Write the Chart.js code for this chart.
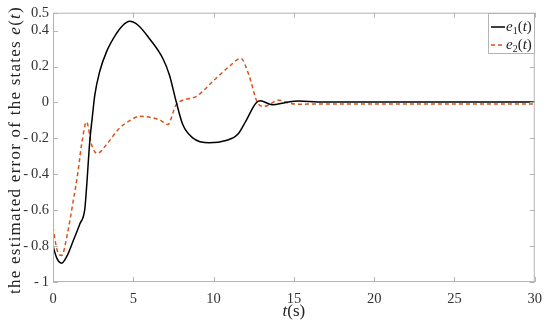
<!DOCTYPE html>
<html>
<head>
<meta charset="utf-8">
<script src="https://cdn.jsdelivr.net/npm/chart.js@4.4.1/dist/chart.umd.min.js"></script>
<style>
  html, body { margin: 0; padding: 0; background: #fff; }
  #wrap { width: 550px; height: 329px; }
</style>
</head>
<body>
<div id="wrap"><canvas id="myChart"></canvas></div>
<script>
// values
const tE1 = [0, 0.25, 0.54, 0.9, 1.26, 1.67, 1.98, 2.09, 2.29, 2.45, 2.6, 2.9, 3.33, 3.95, 4.3, 4.77, 5.3, 6.0, 6.84, 7.25, 7.67, 8.08, 8.7, 9.73, 10.77, 11.49, 12.0, 12.63, 12.9, 13.66, 14.5, 15.3, 16.5, 18, 30];
const e1 = [-0.80, -0.87, -0.895, -0.85, -0.77, -0.677, -0.594, -0.474, -0.216, -0.08, 0.04, 0.17, 0.282, 0.384, 0.425, 0.452, 0.43, 0.356, 0.245, 0.153, 0.005, -0.123, -0.197, -0.225, -0.212, -0.179, -0.105, -0.004, 0.01, -0.013, 0.0, 0.008, 0.003, 0.003, 0.003];

const tE2 = [0, 0.25, 0.54, 0.9, 1.26, 1.55, 1.78, 2.09, 2.4, 2.75, 3.33, 4.15, 4.8, 5.39, 6.22, 6.7, 7.15, 7.67, 8.9, 9.94, 10.97, 11.7, 12.2, 12.73, 13.14, 14.07, 14.7, 15.3, 16.5, 30];
const e2 = [-0.695, -0.82, -0.852, -0.73, -0.548, -0.39, -0.234, -0.109, -0.234, -0.284, -0.234, -0.142, -0.10, -0.077, -0.086, -0.10, -0.123, -0.013, 0.033, 0.116, 0.2, 0.245, 0.153, 0.0, -0.022, 0.013, -0.003, -0.01, -0.008, -0.008];

const xTicks = [0, 5, 10, 15, 20, 25, 30];
const yTicks = [-1, -0.8, -0.6, -0.4, -0.2, 0, 0.2, 0.4, 0.5];

const serif = "'Liberation Serif', 'Times New Roman', serif";

// draw a run of text pieces [text, font, dy]
function drawRun(ctx, x, y, parts) {
  parts.forEach(p => {
    ctx.font = p[1];
    ctx.fillText(p[0], x, y + (p[2] || 0));
    x += ctx.measureText(p[0]).width;
  });
  return x;
}
function runWidth(ctx, parts) {
  let w = 0;
  parts.forEach(p => { ctx.font = p[1]; w += ctx.measureText(p[0]).width; });
  return w;
}

const rmT = '17px ' + serif, itT = 'italic 17px ' + serif;
const yTitle = [['the estimated error of the states ', rmT], ['e', itT], ['(', rmT], ['t', itT], [')', rmT]];

const extras = {
  id: 'extras',
  afterDatasetsDraw(chart) {
    const { ctx, chartArea: a, scales: { x, y } } = chart;
    ctx.save();
    // box
    ctx.strokeStyle = '#b4b4b4';
    ctx.lineWidth = 1;
    ctx.strokeRect(a.left + 0.5, a.top + 0.5, a.right - a.left - 1, a.bottom - a.top - 1);
    // inward ticks on all four sides
    ctx.beginPath();
    xTicks.forEach(v => {
      const px = Math.round(x.getPixelForValue(v)) + 0.5;
      ctx.moveTo(px, a.bottom); ctx.lineTo(px, a.bottom - 5);
      ctx.moveTo(px, a.top); ctx.lineTo(px, a.top + 5);
    });
    yTicks.forEach(v => {
      const py = Math.round(y.getPixelForValue(v)) + 0.5;
      ctx.moveTo(a.left, py); ctx.lineTo(a.left + 5, py);
      ctx.moveTo(a.right, py); ctx.lineTo(a.right - 5, py);
    });
    ctx.stroke();

    // legend
    const lx = 488, ly = 13, lw = 46, lh = 40;
    ctx.fillStyle = '#fff';
    ctx.fillRect(lx, ly, lw, lh);
    ctx.strokeRect(lx + 0.5, ly + 0.5, lw, lh);
    const it = 'italic 15px ' + serif, rm = '15px ' + serif, sub = '10px ' + serif;
    const rows = [
      { color: '#000', dash: [], label: [['e', it], ['1', sub, 4], ['(', rm], ['t', it], [')', rm]], yy: 27 },
      { color: '#D95319', dash: [4, 3], label: [['e', it], ['2', sub, 4], ['(', rm], ['t', it], [')', rm]], yy: 45 }
    ];
    ctx.textBaseline = 'middle';
    rows.forEach(r => {
      ctx.strokeStyle = r.color;
      ctx.lineWidth = 1.5;
      ctx.setLineDash(r.dash);
      ctx.beginPath();
      ctx.moveTo(lx + 3, r.yy); ctx.lineTo(lx + 17, r.yy);
      ctx.stroke();
      ctx.setLineDash([]);
      ctx.fillStyle = '#222';
      drawRun(ctx, lx + 18, r.yy, r.label);
    });

    // axis titles
    ctx.fillStyle = '#222';
    ctx.textBaseline = 'middle';
    const xt = [['t', 'italic 17px ' + serif], ['(s)', '17px ' + serif]];
    drawRun(ctx, (a.left + a.right) / 2 - runWidth(ctx, xt) / 2, 312, xt);

    // y title, spaced out a little to the ~288px it spans in the figure
    const nChars = yTitle.reduce((n, p) => n + p[0].length, 0);
    ctx.letterSpacing = '0px';
    const w0 = runWidth(ctx, yTitle);
    ctx.letterSpacing = Math.max(0, (288 - w0) / nChars).toFixed(2) + 'px';
    const w1 = runWidth(ctx, yTitle);
    ctx.textBaseline = 'alphabetic';
    ctx.translate(20, 150);
    ctx.rotate(-Math.PI / 2);
    drawRun(ctx, -w1 / 2, 0, yTitle);
    ctx.restore();
  }
};

const ctx = document.getElementById('myChart').getContext('2d');
const myChart = new Chart(ctx, {
  type: 'line',
  data: {
    datasets: [{
      label: 'e1(t)',
      data: tE1.map((t, i) => ({ x: t, y: e1[i] })),
      borderColor: '#000',
      borderWidth: 1.5,
      pointRadius: 0,
      cubicInterpolationMode: 'monotone',
      fill: false
    }, {
      label: 'e2(t)',
      data: tE2.map((t, i) => ({ x: t, y: e2[i] })),
      borderColor: '#D95319',
      borderWidth: 1.5,
      borderDash: [4, 3],
      pointRadius: 0,
      cubicInterpolationMode: 'monotone',
      fill: false
    }]
  },
  options: {
    responsive: true,
    maintainAspectRatio: false,
    animation: false,
    events: [],
    layout: { padding: { left: 0, right: 13, top: 12, bottom: 0 } },
    plugins: {
      legend: { display: false },
      tooltip: { enabled: false }
    },
    scales: {
      x: {
        type: 'linear',
        min: 0, max: 30,
        afterBuildTicks: s => { s.ticks = xTicks.map(v => ({ value: v })); },
        afterFit: s => { s.height = 47; },
        grid: { display: false, drawTicks: false },
        border: { display: false },
        ticks: {
          color: '#333',
          padding: 8,
          maxRotation: 0,
          font: { family: serif, size: 14.5 }
        }
      },
      y: {
        type: 'linear',
        min: -1, max: 0.5,
        afterBuildTicks: s => { s.ticks = yTicks.map(v => ({ value: v })); },
        afterFit: s => { s.width = 53; },
        grid: { display: false, drawTicks: false },
        border: { display: false },
        ticks: {
          color: '#333',
          padding: 4,
          font: { family: serif, size: 14.5 },
          callback: v => (v < 0 ? '-\u2009' + String(-v) : String(v))
        }
      }
    }
  },
  plugins: [extras]
});
</script>
</body>
</html>
